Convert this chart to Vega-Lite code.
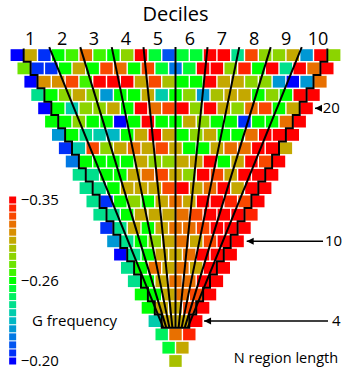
{
"$schema":"https://vega.github.io/schema/vega-lite/v6.json",
"width":342,"height":372,"padding":0,"autosize":{"type":"none"},
"background":"white",
"config":{"view":{"stroke":null},"font":"Open Sans"},
"datasets":{
"cells":[
{"n":24,"x":-11.5,"g":-0.2},{"n":24,"x":-10.5,"g":-0.305},{"n":24,"x":-9.5,"g":-0.206},{"n":24,"x":-8.5,"g":-0.26},{"n":24,"x":-7.5,"g":-0.269},{"n":24,"x":-6.5,"g":-0.323},{"n":24,"x":-5.5,"g":-0.269},{"n":24,"x":-4.5,"g":-0.26},{"n":24,"x":-3.5,"g":-0.287},{"n":24,"x":-2.5,"g":-0.35},{"n":24,"x":-1.5,"g":-0.254},{"n":24,"x":-0.5,"g":-0.212},{"n":24,"x":0.5,"g":-0.254},{"n":24,"x":1.5,"g":-0.254},{"n":24,"x":2.5,"g":-0.35},{"n":24,"x":3.5,"g":-0.35},{"n":24,"x":4.5,"g":-0.242},{"n":24,"x":5.5,"g":-0.332},{"n":24,"x":6.5,"g":-0.287},{"n":24,"x":7.5,"g":-0.287},{"n":24,"x":8.5,"g":-0.305},{"n":24,"x":9.5,"g":-0.224},{"n":24,"x":10.5,"g":-0.35},{"n":24,"x":11.5,"g":-0.287},
{"n":23,"x":-11,"g":-0.278},{"n":23,"x":-10,"g":-0.206},{"n":23,"x":-9,"g":-0.206},{"n":23,"x":-8,"g":-0.26},{"n":23,"x":-7,"g":-0.305},{"n":23,"x":-6,"g":-0.26},{"n":23,"x":-5,"g":-0.332},{"n":23,"x":-4,"g":-0.323},{"n":23,"x":-3,"g":-0.26},{"n":23,"x":-2,"g":-0.332},{"n":23,"x":-1,"g":-0.254},{"n":23,"x":0,"g":-0.218},{"n":23,"x":1,"g":-0.254},{"n":23,"x":2,"g":-0.35},{"n":23,"x":3,"g":-0.35},{"n":23,"x":4,"g":-0.287},{"n":23,"x":5,"g":-0.341},{"n":23,"x":6,"g":-0.26},{"n":23,"x":7,"g":-0.35},{"n":23,"x":8,"g":-0.242},{"n":23,"x":9,"g":-0.35},{"n":23,"x":10,"g":-0.323},{"n":23,"x":11,"g":-0.35},
{"n":22,"x":-10.5,"g":-0.2},{"n":22,"x":-9.5,"g":-0.314},{"n":22,"x":-8.5,"g":-0.314},{"n":22,"x":-7.5,"g":-0.332},{"n":22,"x":-6.5,"g":-0.269},{"n":22,"x":-5.5,"g":-0.35},{"n":22,"x":-4.5,"g":-0.35},{"n":22,"x":-3.5,"g":-0.35},{"n":22,"x":-2.5,"g":-0.305},{"n":22,"x":-1.5,"g":-0.332},{"n":22,"x":-0.5,"g":-0.296},{"n":22,"x":0.5,"g":-0.26},{"n":22,"x":1.5,"g":-0.26},{"n":22,"x":2.5,"g":-0.35},{"n":22,"x":3.5,"g":-0.305},{"n":22,"x":4.5,"g":-0.305},{"n":22,"x":5.5,"g":-0.287},{"n":22,"x":6.5,"g":-0.287},{"n":22,"x":7.5,"g":-0.224},{"n":22,"x":8.5,"g":-0.2},{"n":22,"x":9.5,"g":-0.224},{"n":22,"x":10.5,"g":-0.323},
{"n":21,"x":-10,"g":-0.242},{"n":21,"x":-9,"g":-0.26},{"n":21,"x":-8,"g":-0.287},{"n":21,"x":-7,"g":-0.305},{"n":21,"x":-6,"g":-0.287},{"n":21,"x":-5,"g":-0.224},{"n":21,"x":-4,"g":-0.26},{"n":21,"x":-3,"g":-0.26},{"n":21,"x":-2,"g":-0.305},{"n":21,"x":-1,"g":-0.236},{"n":21,"x":0,"g":-0.26},{"n":21,"x":1,"g":-0.287},{"n":21,"x":2,"g":-0.224},{"n":21,"x":3,"g":-0.296},{"n":21,"x":4,"g":-0.305},{"n":21,"x":5,"g":-0.305},{"n":21,"x":6,"g":-0.26},{"n":21,"x":7,"g":-0.287},{"n":21,"x":8,"g":-0.26},{"n":21,"x":9,"g":-0.35},{"n":21,"x":10,"g":-0.35},
{"n":20,"x":-9.5,"g":-0.2},{"n":20,"x":-8.5,"g":-0.26},{"n":20,"x":-7.5,"g":-0.236},{"n":20,"x":-6.5,"g":-0.287},{"n":20,"x":-5.5,"g":-0.287},{"n":20,"x":-4.5,"g":-0.305},{"n":20,"x":-3.5,"g":-0.26},{"n":20,"x":-2.5,"g":-0.35},{"n":20,"x":-1.5,"g":-0.323},{"n":20,"x":-0.5,"g":-0.332},{"n":20,"x":0.5,"g":-0.35},{"n":20,"x":1.5,"g":-0.287},{"n":20,"x":2.5,"g":-0.35},{"n":20,"x":3.5,"g":-0.305},{"n":20,"x":4.5,"g":-0.287},{"n":20,"x":5.5,"g":-0.323},{"n":20,"x":6.5,"g":-0.332},{"n":20,"x":7.5,"g":-0.26},{"n":20,"x":8.5,"g":-0.305},{"n":20,"x":9.5,"g":-0.35},
{"n":19,"x":-9,"g":-0.26},{"n":19,"x":-8,"g":-0.26},{"n":19,"x":-7,"g":-0.287},{"n":19,"x":-6,"g":-0.26},{"n":19,"x":-5,"g":-0.26},{"n":19,"x":-4,"g":-0.2},{"n":19,"x":-3,"g":-0.26},{"n":19,"x":-2,"g":-0.35},{"n":19,"x":-1,"g":-0.26},{"n":19,"x":0,"g":-0.26},{"n":19,"x":1,"g":-0.305},{"n":19,"x":2,"g":-0.287},{"n":19,"x":3,"g":-0.26},{"n":19,"x":4,"g":-0.26},{"n":19,"x":5,"g":-0.206},{"n":19,"x":6,"g":-0.26},{"n":19,"x":7,"g":-0.26},{"n":19,"x":8,"g":-0.323},{"n":19,"x":9,"g":-0.35},
{"n":18,"x":-8.5,"g":-0.224},{"n":18,"x":-7.5,"g":-0.26},{"n":18,"x":-6.5,"g":-0.242},{"n":18,"x":-5.5,"g":-0.236},{"n":18,"x":-4.5,"g":-0.23},{"n":18,"x":-3.5,"g":-0.26},{"n":18,"x":-2.5,"g":-0.305},{"n":18,"x":-1.5,"g":-0.35},{"n":18,"x":-0.5,"g":-0.305},{"n":18,"x":0.5,"g":-0.26},{"n":18,"x":1.5,"g":-0.287},{"n":18,"x":2.5,"g":-0.305},{"n":18,"x":3.5,"g":-0.26},{"n":18,"x":4.5,"g":-0.26},{"n":18,"x":5.5,"g":-0.323},{"n":18,"x":6.5,"g":-0.35},{"n":18,"x":7.5,"g":-0.35},{"n":18,"x":8.5,"g":-0.35},
{"n":17,"x":-8,"g":-0.206},{"n":17,"x":-7,"g":-0.236},{"n":17,"x":-6,"g":-0.332},{"n":17,"x":-5,"g":-0.287},{"n":17,"x":-4,"g":-0.305},{"n":17,"x":-3,"g":-0.323},{"n":17,"x":-2,"g":-0.305},{"n":17,"x":-1,"g":-0.332},{"n":17,"x":0,"g":-0.305},{"n":17,"x":1,"g":-0.26},{"n":17,"x":2,"g":-0.26},{"n":17,"x":3,"g":-0.305},{"n":17,"x":4,"g":-0.323},{"n":17,"x":5,"g":-0.323},{"n":17,"x":6,"g":-0.35},{"n":17,"x":7,"g":-0.35},{"n":17,"x":8,"g":-0.305},
{"n":16,"x":-7.5,"g":-0.218},{"n":16,"x":-6.5,"g":-0.26},{"n":16,"x":-5.5,"g":-0.26},{"n":16,"x":-4.5,"g":-0.26},{"n":16,"x":-3.5,"g":-0.26},{"n":16,"x":-2.5,"g":-0.305},{"n":16,"x":-1.5,"g":-0.287},{"n":16,"x":-0.5,"g":-0.287},{"n":16,"x":0.5,"g":-0.305},{"n":16,"x":1.5,"g":-0.305},{"n":16,"x":2.5,"g":-0.35},{"n":16,"x":3.5,"g":-0.26},{"n":16,"x":4.5,"g":-0.305},{"n":16,"x":5.5,"g":-0.35},{"n":16,"x":6.5,"g":-0.332},{"n":16,"x":7.5,"g":-0.35},
{"n":15,"x":-7,"g":-0.242},{"n":15,"x":-6,"g":-0.242},{"n":15,"x":-5,"g":-0.26},{"n":15,"x":-4,"g":-0.26},{"n":15,"x":-3,"g":-0.305},{"n":15,"x":-2,"g":-0.323},{"n":15,"x":-1,"g":-0.332},{"n":15,"x":0,"g":-0.305},{"n":15,"x":1,"g":-0.287},{"n":15,"x":2,"g":-0.35},{"n":15,"x":3,"g":-0.332},{"n":15,"x":4,"g":-0.305},{"n":15,"x":5,"g":-0.35},{"n":15,"x":6,"g":-0.35},{"n":15,"x":7,"g":-0.35},
{"n":14,"x":-6.5,"g":-0.242},{"n":14,"x":-5.5,"g":-0.242},{"n":14,"x":-4.5,"g":-0.26},{"n":14,"x":-3.5,"g":-0.305},{"n":14,"x":-2.5,"g":-0.305},{"n":14,"x":-1.5,"g":-0.305},{"n":14,"x":-0.5,"g":-0.332},{"n":14,"x":0.5,"g":-0.35},{"n":14,"x":1.5,"g":-0.305},{"n":14,"x":2.5,"g":-0.323},{"n":14,"x":3.5,"g":-0.35},{"n":14,"x":4.5,"g":-0.305},{"n":14,"x":5.5,"g":-0.35},{"n":14,"x":6.5,"g":-0.35},
{"n":13,"x":-6,"g":-0.242},{"n":13,"x":-5,"g":-0.206},{"n":13,"x":-4,"g":-0.26},{"n":13,"x":-3,"g":-0.287},{"n":13,"x":-2,"g":-0.26},{"n":13,"x":-1,"g":-0.305},{"n":13,"x":0,"g":-0.323},{"n":13,"x":1,"g":-0.305},{"n":13,"x":2,"g":-0.35},{"n":13,"x":3,"g":-0.35},{"n":13,"x":4,"g":-0.341},{"n":13,"x":5,"g":-0.332},{"n":13,"x":6,"g":-0.35},
{"n":12,"x":-5.5,"g":-0.242},{"n":12,"x":-4.5,"g":-0.242},{"n":12,"x":-3.5,"g":-0.26},{"n":12,"x":-2.5,"g":-0.305},{"n":12,"x":-1.5,"g":-0.305},{"n":12,"x":-0.5,"g":-0.305},{"n":12,"x":0.5,"g":-0.323},{"n":12,"x":1.5,"g":-0.332},{"n":12,"x":2.5,"g":-0.35},{"n":12,"x":3.5,"g":-0.35},{"n":12,"x":4.5,"g":-0.35},{"n":12,"x":5.5,"g":-0.341},
{"n":11,"x":-5,"g":-0.206},{"n":11,"x":-4,"g":-0.242},{"n":11,"x":-3,"g":-0.305},{"n":11,"x":-2,"g":-0.26},{"n":11,"x":-1,"g":-0.305},{"n":11,"x":0,"g":-0.323},{"n":11,"x":1,"g":-0.323},{"n":11,"x":2,"g":-0.332},{"n":11,"x":3,"g":-0.35},{"n":11,"x":4,"g":-0.35},{"n":11,"x":5,"g":-0.35},
{"n":10,"x":-4.5,"g":-0.224},{"n":10,"x":-3.5,"g":-0.242},{"n":10,"x":-2.5,"g":-0.26},{"n":10,"x":-1.5,"g":-0.287},{"n":10,"x":-0.5,"g":-0.305},{"n":10,"x":0.5,"g":-0.323},{"n":10,"x":1.5,"g":-0.305},{"n":10,"x":2.5,"g":-0.332},{"n":10,"x":3.5,"g":-0.35},{"n":10,"x":4.5,"g":-0.35},
{"n":9,"x":-4,"g":-0.2},{"n":9,"x":-3,"g":-0.242},{"n":9,"x":-2,"g":-0.26},{"n":9,"x":-1,"g":-0.305},{"n":9,"x":0,"g":-0.305},{"n":9,"x":1,"g":-0.323},{"n":9,"x":2,"g":-0.35},{"n":9,"x":3,"g":-0.35},{"n":9,"x":4,"g":-0.35},
{"n":8,"x":-3.5,"g":-0.242},{"n":8,"x":-2.5,"g":-0.26},{"n":8,"x":-1.5,"g":-0.323},{"n":8,"x":-0.5,"g":-0.305},{"n":8,"x":0.5,"g":-0.323},{"n":8,"x":1.5,"g":-0.305},{"n":8,"x":2.5,"g":-0.35},{"n":8,"x":3.5,"g":-0.35},
{"n":7,"x":-3,"g":-0.242},{"n":7,"x":-2,"g":-0.26},{"n":7,"x":-1,"g":-0.305},{"n":7,"x":0,"g":-0.323},{"n":7,"x":1,"g":-0.323},{"n":7,"x":2,"g":-0.35},{"n":7,"x":3,"g":-0.35},
{"n":6,"x":-2.5,"g":-0.26},{"n":6,"x":-1.5,"g":-0.26},{"n":6,"x":-0.5,"g":-0.305},{"n":6,"x":0.5,"g":-0.323},{"n":6,"x":1.5,"g":-0.332},{"n":6,"x":2.5,"g":-0.35},
{"n":5,"x":-2,"g":-0.26},{"n":5,"x":-1,"g":-0.305},{"n":5,"x":0,"g":-0.305},{"n":5,"x":1,"g":-0.332},{"n":5,"x":2,"g":-0.35},
{"n":4,"x":-1.5,"g":-0.236},{"n":4,"x":-0.5,"g":-0.305},{"n":4,"x":0.5,"g":-0.305},{"n":4,"x":1.5,"g":-0.35},
{"n":3,"x":-1,"g":-0.248},{"n":3,"x":0,"g":-0.323},{"n":3,"x":1,"g":-0.341},
{"n":2,"x":-0.5,"g":-0.254},{"n":2,"x":0.5,"g":-0.305},
{"n":1,"x":0,"g":-0.296}
],
"stair":[
{"sx":-11,"sy":24.5,"o":1},{"sx":-11,"sy":23.5,"o":2},{"sx":-10.5,"sy":23.5,"o":3},{"sx":-10.5,"sy":22.5,"o":4},{"sx":-10,"sy":22.5,"o":5},{"sx":-10,"sy":21.5,"o":6},{"sx":-9.5,"sy":21.5,"o":7},{"sx":-9.5,"sy":20.5,"o":8},{"sx":-9,"sy":20.5,"o":9},{"sx":-9,"sy":19.5,"o":10},{"sx":-8.5,"sy":19.5,"o":11},{"sx":-8.5,"sy":18.5,"o":12},{"sx":-8,"sy":18.5,"o":13},{"sx":-8,"sy":17.5,"o":14},{"sx":-7.5,"sy":17.5,"o":15},{"sx":-7.5,"sy":16.5,"o":16},{"sx":-7,"sy":16.5,"o":17},{"sx":-7,"sy":15.5,"o":18},{"sx":-6.5,"sy":15.5,"o":19},{"sx":-6.5,"sy":14.5,"o":20},{"sx":-6,"sy":14.5,"o":21},{"sx":-6,"sy":13.5,"o":22},{"sx":-5.5,"sy":13.5,"o":23},{"sx":-5.5,"sy":12.5,"o":24},{"sx":-5,"sy":12.5,"o":25},{"sx":-5,"sy":11.5,"o":26},{"sx":-4.5,"sy":11.5,"o":27},{"sx":-4.5,"sy":10.5,"o":28},{"sx":-4,"sy":10.5,"o":29},{"sx":-4,"sy":9.5,"o":30},{"sx":-3.5,"sy":9.5,"o":31},{"sx":-3.5,"sy":8.5,"o":32},{"sx":-3,"sy":8.5,"o":33},{"sx":-3,"sy":7.5,"o":34},{"sx":-2.5,"sy":7.5,"o":35},{"sx":-2.5,"sy":6.5,"o":36},{"sx":-2,"sy":6.5,"o":37},{"sx":-2,"sy":5.5,"o":38},{"sx":-1.5,"sy":5.5,"o":39},{"sx":-1.5,"sy":4.5,"o":40},{"sx":-1,"sy":4.5,"o":41},{"sx":-1,"sy":3.5,"o":42},
{"sx":1,"sy":3.5,"o":43},{"sx":1,"sy":4.5,"o":44},{"sx":1.5,"sy":4.5,"o":45},{"sx":1.5,"sy":5.5,"o":46},{"sx":2,"sy":5.5,"o":47},{"sx":2,"sy":6.5,"o":48},{"sx":2.5,"sy":6.5,"o":49},{"sx":2.5,"sy":7.5,"o":50},{"sx":3,"sy":7.5,"o":51},{"sx":3,"sy":8.5,"o":52},{"sx":3.5,"sy":8.5,"o":53},{"sx":3.5,"sy":9.5,"o":54},{"sx":4,"sy":9.5,"o":55},{"sx":4,"sy":10.5,"o":56},{"sx":4.5,"sy":10.5,"o":57},{"sx":4.5,"sy":11.5,"o":58},{"sx":5,"sy":11.5,"o":59},{"sx":5,"sy":12.5,"o":60},{"sx":5.5,"sy":12.5,"o":61},{"sx":5.5,"sy":13.5,"o":62},{"sx":6,"sy":13.5,"o":63},{"sx":6,"sy":14.5,"o":64},{"sx":6.5,"sy":14.5,"o":65},{"sx":6.5,"sy":15.5,"o":66},{"sx":7,"sy":15.5,"o":67},{"sx":7,"sy":16.5,"o":68},{"sx":7.5,"sy":16.5,"o":69},{"sx":7.5,"sy":17.5,"o":70},{"sx":8,"sy":17.5,"o":71},{"sx":8,"sy":18.5,"o":72},{"sx":8.5,"sy":18.5,"o":73},{"sx":8.5,"sy":19.5,"o":74},{"sx":9,"sy":19.5,"o":75},{"sx":9,"sy":20.5,"o":76},{"sx":9.5,"sy":20.5,"o":77},{"sx":9.5,"sy":21.5,"o":78},{"sx":10,"sy":21.5,"o":79},{"sx":10,"sy":22.5,"o":80},{"sx":10.5,"sy":22.5,"o":81},{"sx":10.5,"sy":23.5,"o":82},{"sx":11,"sy":23.5,"o":83},{"sx":11,"sy":24.5,"o":84}
],
"dec":[
{"tx":-9.15,"bx":-0.9},{"tx":-6.9,"bx":-0.68},{"tx":-4.62,"bx":-0.45},{"tx":-2.32,"bx":-0.23},{"tx":0,"bx":0},{"tx":2.32,"bx":0.23},{"tx":4.62,"bx":0.45},{"tx":6.9,"bx":0.68},{"tx":9.15,"bx":0.9}
],
"declab":[
{"d":"1","lx":-10.54},{"d":"2","lx":-8.22},{"d":"3","lx":-5.91},{"d":"4","lx":-3.59},{"d":"5","lx":-1.27},{"d":"6","lx":1.05},{"d":"7","lx":3.37},{"d":"8","lx":5.69},{"d":"9","lx":8.01},{"d":"10","lx":10.33}
],
"arrows":[
{"t":"20","n":20,"tip":10.11,"end":10.62,"lx":10.67},
{"t":"10","n":10,"tip":5.16,"end":10.69,"lx":10.83},
{"t":"4","n":4,"tip":2.07,"end":11.05,"lx":11.34}
],
"legend":[
{"g":-0.35},{"g":-0.341},{"g":-0.332},{"g":-0.323},{"g":-0.314},{"g":-0.305},{"g":-0.296},{"g":-0.287},{"g":-0.278},{"g":-0.269},{"g":-0.26},{"g":-0.254},{"g":-0.248},{"g":-0.242},{"g":-0.236},{"g":-0.23},{"g":-0.224},{"g":-0.218},{"g":-0.212},{"g":-0.206},{"g":-0.2}
]
},
"layer":[
{"layer":[
{"data":{"name":"cells"},
 "mark":{"type":"point","shape":"M-1,-0.95H1V0.95H-1Z","size":154,"filled":true,"opacity":1,"strokeWidth":0},
 "encoding":{
  "x":{"field":"x","type":"quantitative","scale":{"domain":[-12.717,12.065],"nice":false,"zero":false},"axis":null},
  "y":{"field":"n","type":"quantitative","scale":{"domain":[0.173,28.143],"nice":false,"zero":false},"axis":null},
  "color":{"field":"g","type":"ordinal","legend":null,"scale":{"domain":[-0.35,-0.341,-0.332,-0.323,-0.314,-0.305,-0.296,-0.287,-0.278,-0.269,-0.26,-0.254,-0.248,-0.242,-0.236,-0.23,-0.224,-0.218,-0.212,-0.206,-0.2],"range":["#ff0000","#ff2400","#f84800","#e87000","#d88f00","#c4a800","#a8c000","#8cd400","#6ce400","#40f400","#00ff00","#00fc34","#00f060","#00e08c","#00ccac","#00b8c4","#0098d4","#0078e4","#0054f0","#0030f8","#0000ff"]}}
 }},
{"data":{"name":"stair"},
 "mark":{"type":"line","color":"black","strokeWidth":2,"strokeJoin":"miter"},
 "encoding":{
  "x":{"field":"sx","type":"quantitative","scale":{"domain":[-12.717,12.065],"nice":false,"zero":false},"axis":null},
  "y":{"field":"sy","type":"quantitative","scale":{"domain":[0.173,28.143],"nice":false,"zero":false},"axis":null},
  "order":{"field":"o","type":"quantitative"}
 }},
{"data":{"name":"dec"},
 "mark":{"type":"rule","color":"black","strokeWidth":2},
 "encoding":{
  "x":{"field":"tx","type":"quantitative","scale":{"domain":[-12.717,12.065],"nice":false,"zero":false},"axis":null},
  "x2":{"field":"bx"},
  "y":{"datum":24.6,"type":"quantitative","scale":{"domain":[0.173,28.143],"nice":false,"zero":false},"axis":null},
  "y2":{"datum":3.55}
 }},
{"data":{"name":"declab"},
 "mark":{"type":"text","fontSize":18,"align":"center","baseline":"middle","color":"black"},
 "encoding":{
  "x":{"field":"lx","type":"quantitative","scale":{"domain":[-12.717,12.065],"nice":false,"zero":false},"axis":null},
  "y":{"datum":25.14,"type":"quantitative","scale":{"domain":[0.173,28.143],"nice":false,"zero":false},"axis":null},
  "text":{"field":"d"}
 }},
{"data":{"name":"arrows"},
 "mark":{"type":"rule","color":"black","strokeWidth":1.5},
 "encoding":{
  "x":{"field":"tip","type":"quantitative","scale":{"domain":[-12.717,12.065],"nice":false,"zero":false},"axis":null},
  "x2":{"field":"end"},
  "y":{"field":"n","type":"quantitative","scale":{"domain":[0.173,28.143],"nice":false,"zero":false},"axis":null}
 }},
{"data":{"name":"arrows"},
 "mark":{"type":"point","shape":"M0,0L2,-1L2,1Z","size":49,"filled":true,"opacity":1,"color":"black","strokeWidth":0},
 "encoding":{
  "x":{"field":"tip","type":"quantitative","scale":{"domain":[-12.717,12.065],"nice":false,"zero":false},"axis":null},
  "y":{"field":"n","type":"quantitative","scale":{"domain":[0.173,28.143],"nice":false,"zero":false},"axis":null}
 }},
{"data":{"name":"arrows"},
 "mark":{"type":"text","fontSize":15,"align":"left","baseline":"middle","color":"black"},
 "encoding":{
  "x":{"field":"lx","type":"quantitative","scale":{"domain":[-12.717,12.065],"nice":false,"zero":false},"axis":null},
  "y":{"field":"n","type":"quantitative","scale":{"domain":[0.173,28.143],"nice":false,"zero":false},"axis":null},
  "text":{"field":"t"}
 }},
{"data":{"values":[{"t":"Deciles"}]},
 "mark":{"type":"text","fontSize":20,"align":"center","baseline":"middle","color":"black"},
 "encoding":{
  "x":{"datum":0,"type":"quantitative","scale":{"domain":[-12.717,12.065],"nice":false,"zero":false},"axis":null},
  "y":{"datum":27.05,"type":"quantitative","scale":{"domain":[0.173,28.143],"nice":false,"zero":false},"axis":null},
  "text":{"field":"t"}
 }},
{"data":{"values":[{"t":"G frequency"}]},
 "mark":{"type":"text","fontSize":15,"align":"left","baseline":"middle","color":"black"},
 "encoding":{
  "x":{"datum":-10.4,"type":"quantitative","scale":{"domain":[-12.717,12.065],"nice":false,"zero":false},"axis":null},
  "y":{"datum":4.03,"type":"quantitative","scale":{"domain":[0.173,28.143],"nice":false,"zero":false},"axis":null},
  "text":{"field":"t"}
 }},
{"data":{"values":[{"t":"N region length"}]},
 "mark":{"type":"text","fontSize":14.5,"align":"right","baseline":"middle","color":"black"},
 "encoding":{
  "x":{"datum":11.78,"type":"quantitative","scale":{"domain":[-12.717,12.065],"nice":false,"zero":false},"axis":null},
  "y":{"datum":1.15,"type":"quantitative","scale":{"domain":[0.173,28.143],"nice":false,"zero":false},"axis":null},
  "text":{"field":"t"}
 }}
]},
{"layer":[
{"data":{"name":"legend"},
 "mark":{"type":"point","shape":"square","size":49,"filled":true,"opacity":1,"strokeWidth":0},
 "encoding":{
  "x":{"datum":-11.8,"type":"quantitative","scale":{"domain":[-12.717,12.065],"nice":false,"zero":false},"axis":null},
  "y":{"field":"g","type":"ordinal","scale":{"domain":[-0.35,-0.341,-0.332,-0.323,-0.314,-0.305,-0.296,-0.287,-0.278,-0.269,-0.26,-0.254,-0.248,-0.242,-0.236,-0.23,-0.224,-0.218,-0.212,-0.206,-0.2],"range":[200,361],"padding":0},"axis":null},
  "color":{"field":"g","type":"ordinal","legend":null,"scale":{"domain":[-0.35,-0.341,-0.332,-0.323,-0.314,-0.305,-0.296,-0.287,-0.278,-0.269,-0.26,-0.254,-0.248,-0.242,-0.236,-0.23,-0.224,-0.218,-0.212,-0.206,-0.2],"range":["#ff0000","#ff2400","#f84800","#e87000","#d88f00","#c4a800","#a8c000","#8cd400","#6ce400","#40f400","#00ff00","#00fc34","#00f060","#00e08c","#00ccac","#00b8c4","#0098d4","#0078e4","#0054f0","#0030f8","#0000ff"]}}
 }},
{"data":{"name":"legend"},
 "transform":[{"filter":{"field":"g","oneOf":[-0.35,-0.26,-0.2]}}],
 "mark":{"type":"text","fontSize":15,"align":"left","baseline":"middle","color":"black"},
 "encoding":{
  "x":{"datum":-11.22,"type":"quantitative","scale":{"domain":[-12.717,12.065],"nice":false,"zero":false},"axis":null},
  "y":{"field":"g","type":"ordinal","scale":{"domain":[-0.35,-0.341,-0.332,-0.323,-0.314,-0.305,-0.296,-0.287,-0.278,-0.269,-0.26,-0.254,-0.248,-0.242,-0.236,-0.23,-0.224,-0.218,-0.212,-0.206,-0.2],"range":[200,361],"padding":0},"axis":null},
  "text":{"field":"g","type":"quantitative","format":".2f"}
 }}
]}
],
"resolve":{"scale":{"y":"independent"}}
}
